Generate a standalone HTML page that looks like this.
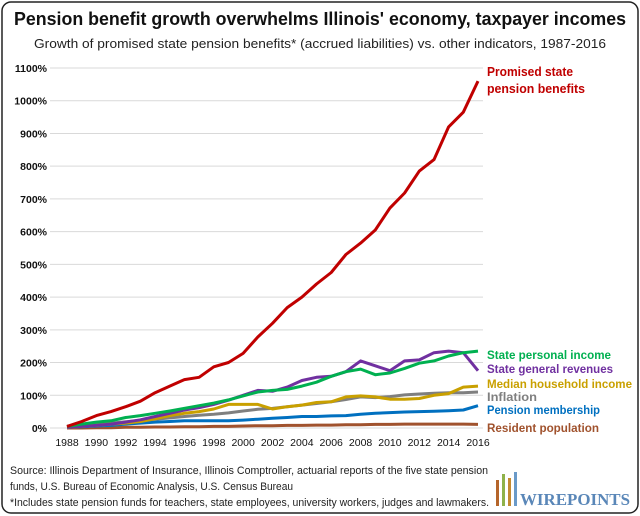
<!DOCTYPE html>
<html><head><meta charset="utf-8"><style>
body{margin:0;background:#fff;font-family:"Liberation Sans",sans-serif}
svg{display:block}
</style></head><body>
<svg width="640" height="516" viewBox="0 0 640 516">
<rect x="2" y="2" width="636" height="511" rx="9" fill="#fff" stroke="#222" stroke-width="1.5"/>
<text x="14" y="25" font-size="18" font-weight="bold" fill="#111" textLength="612" lengthAdjust="spacingAndGlyphs">Pension benefit growth overwhelms Illinois' economy, taxpayer incomes</text>
<text x="34" y="48" font-size="13" fill="#222" textLength="572" lengthAdjust="spacingAndGlyphs">Growth of promised state pension benefits* (accrued liabilities) vs. other indicators, 1987-2016</text>
<g id="grid"></g><g id="yt"></g><g id="xt"></g><g id="lines"></g><g id="labels"></g>
<text x="10" y="474" font-size="10.8" fill="#222" textLength="478" lengthAdjust="spacingAndGlyphs">Source: Illinois Department of Insurance, Illinois Comptroller, actuarial reports of the five state pension</text>
<text x="10" y="490" font-size="10.8" fill="#222" textLength="283" lengthAdjust="spacingAndGlyphs">funds, U.S. Bureau of Economic Analysis, U.S. Census Bureau</text>
<text x="10" y="506" font-size="10.8" fill="#222" textLength="479" lengthAdjust="spacingAndGlyphs">*Includes state pension funds for teachers, state employees, university workers, judges and lawmakers.</text>
<g>
<rect x="496" y="480" width="3" height="26" fill="#b5652a"/><rect x="502" y="474" width="3" height="32" fill="#8fb24a"/><rect x="508" y="478" width="3" height="28" fill="#c48a30"/><rect x="514" y="472" width="3" height="34" fill="#6a9ac8"/>
<text x="520" y="505" font-size="17" font-weight="bold" font-family="Liberation Serif,serif" fill="#5a87b8" textLength="110" lengthAdjust="spacingAndGlyphs">WIREPOINTS</text>
</g>
</svg>
<script>
const years=[1988,1989,1990,1991,1992,1993,1994,1995,1996,1997,1998,1999,2000,2001,2002,2003,2004,2005,2006,2007,2008,2009,2010,2011,2012,2013,2014,2015,2016];
const yTicks=[0,100,200,300,400,500,600,700,800,900,1000,1100];
const xTickLabels=[1988,1990,1992,1994,1996,1998,2000,2002,2004,2006,2008,2010,2012,2014,2016];
const pension=[5,20,38,50,65,82,108,128,148,155,187,200,228,278,320,368,400,440,475,530,565,605,672,718,785,820,920,965,1060];
const personalIncome=[5,12,18,22,32,38,45,52,60,68,76,86,98,110,115,118,128,140,158,172,180,163,168,182,198,205,220,230,235];
const revenues=[2,5,8,12,18,25,35,45,55,62,72,85,100,115,112,125,145,155,158,172,205,190,175,205,208,230,235,230,175];
const householdIncome=[2,5,8,12,15,20,28,38,45,50,58,72,72,72,58,65,70,78,80,95,98,95,88,88,90,100,105,125,128];
const inflation=[2,6,11,15,19,23,27,31,35,39,42,46,52,57,60,65,70,75,80,87,95,93,96,101,104,106,108,108,110];
const membership=[2,4,6,8,12,15,18,20,22,22,22,22,24,27,30,32,35,35,37,38,42,45,47,49,50,51,53,55,68];
const population=[0,0,1,1,2,2,3,3,4,4,5,5,6,7,7,8,8,9,9,10,10,11,11,12,12,12,12,12,11];
const x=yr=>67+(yr-1988)*(411/28);
const y=v=>428-v*(360/1100);
const NS="http://www.w3.org/2000/svg";
function mk(tag,attrs,parent,txt){const e=document.createElementNS(NS,tag);for(const k in attrs)e.setAttribute(k,attrs[k]);if(txt!==undefined)e.textContent=txt;document.getElementById(parent).appendChild(e);return e;}
yTicks.forEach(t=>{
 const g=mk('line',{x1:50,x2:483,y1:y(t),y2:y(t),stroke:'#d9d9d9','stroke-width':1},'grid');
 
 
 const l=mk('text',{x:47,y:y(t)+4,'text-anchor':'end','font-size':10.5,'font-weight':'bold',fill:'#111'},'yt',t+'%');
 
 
});
xTickLabels.forEach(t=>{
 const l=mk('text',{x:x(t),y:446,'text-anchor':'middle','font-size':10.5,fill:'#111'},'xt',t);
 
 
});
const series=[
 [population,'#a0522d','Resident population',428,'resident-population',112],
 [membership,'#0070c0','Pension membership',410,'pension-membership',113],
 [inflation,'#7f7f7f','Inflation',397,'inflation',50],
 [householdIncome,'#c9a000','Median household income',384,'median-household-income',145],
 [revenues,'#7030a0','State general revenues',369,'state-general-revenues',126],
 [personalIncome,'#00b050','State personal income',355,'state-personal-income',124],
 [pension,'#c00000',null,0,'promised-pension-benefits',0]
];
series.forEach(s=>{
 const pts=s[0].map((v,i)=>x(years[i]).toFixed(1)+','+y(v).toFixed(1)).join(' ');
 const p=mk('polyline',{points:pts,fill:'none',stroke:s[1],'stroke-width':3,'stroke-linejoin':'round'},'lines');
 
 
 if(s[2]){
  const l=mk('text',{x:487,y:s[3]+4,'font-size':11.5,'font-weight':'bold',fill:s[1],textLength:s[5],lengthAdjust:'spacingAndGlyphs'},'labels',s[2]);
  
  
 }
});
const a=mk('text',{x:487,y:76,'font-size':12.5,'font-weight':'bold',fill:'#c00000',textLength:86,lengthAdjust:'spacingAndGlyphs'},'labels','Promised state');


const b=mk('text',{x:487,y:93,'font-size':12.5,'font-weight':'bold',fill:'#c00000',textLength:98,lengthAdjust:'spacingAndGlyphs'},'labels','pension benefits');


</script>
</body></html>
